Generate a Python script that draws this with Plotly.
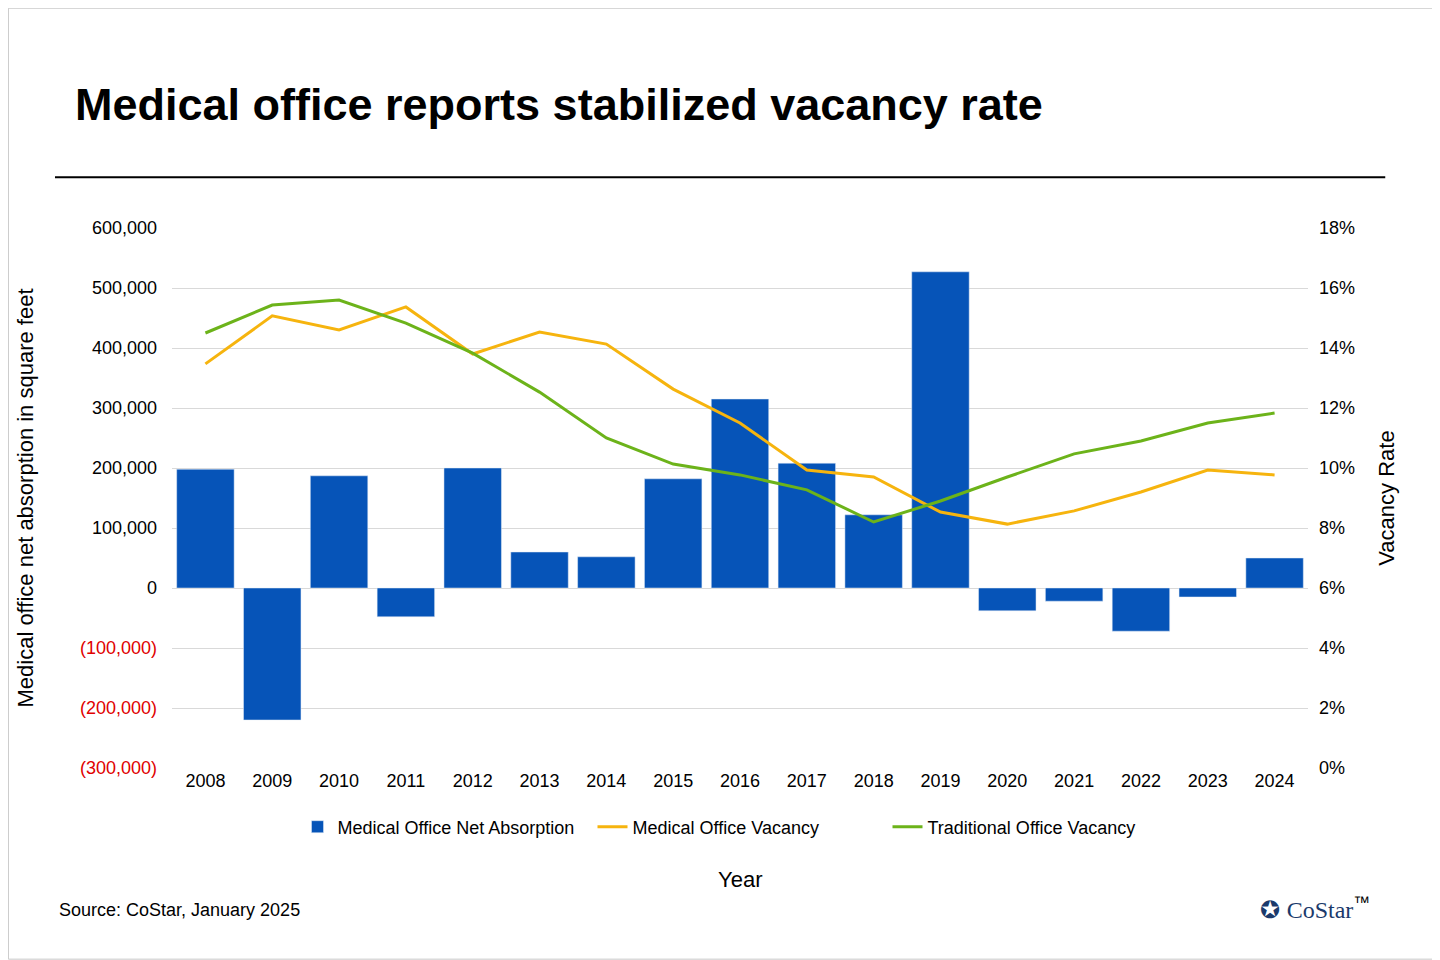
import plotly.graph_objects as go

years = [str(y) for y in range(2008, 2025)]
absorption = [198000, -220000, 187000, -48000, 200000, 60000, 52000, 182000, 315000,
              208000, 122000, 527000, -38000, -22000, -72000, -15000, 50000]
medical_vacancy = [13.47, 15.07, 14.6, 15.37, 13.8, 14.53, 14.13, 12.63, 11.5,
                   9.93, 9.7, 8.53, 8.13, 8.57, 9.2, 9.93, 9.77]
traditional_vacancy = [14.5, 15.43, 15.6, 14.83, 13.83, 12.53, 11.0, 10.13, 9.77,
                       9.27, 8.2, 8.9, 9.7, 10.47, 10.9, 11.5, 11.83]

left_ticks = [-300000, -200000, -100000, 0, 100000, 200000, 300000, 400000, 500000, 600000]
left_text = ["<span style='color:#e00000'>(%s)</span>" % f"{-v:,}" if v < 0 else f"{v:,}"
             for v in left_ticks]

fig = go.Figure()
fig.add_trace(go.Bar(x=years, y=absorption, name="Medical Office Net Absorption",
                     marker_color="#0654b8", width=0.86))
fig.add_trace(go.Scatter(x=years, y=medical_vacancy, name="Medical Office Vacancy", yaxis="y2",
                         mode="lines", line=dict(color="#f6b40e", width=3)))
fig.add_trace(go.Scatter(x=years, y=traditional_vacancy, name="Traditional Office Vacancy", yaxis="y2",
                         mode="lines", line=dict(color="#6cb31a", width=3)))

fig.update_layout(
    width=1440, height=960,
    paper_bgcolor="white", plot_bgcolor="white",
    font=dict(family="Liberation Sans, Arial", size=18, color="black"),
    margin=dict(l=164, r=140, t=220, b=200),
    xaxis=dict(showgrid=False, ticks="", tickfont=dict(size=18)),
    yaxis=dict(range=[-300000, 600000], tickvals=left_ticks, ticktext=left_text,
               gridcolor="#d9d9d9", zeroline=False, ticks="", ticklabelstandoff=14,
               title=dict(text="Medical office net absorption in square feet", font=dict(size=22), standoff=40)),
    yaxis2=dict(range=[0, 18], dtick=2, ticksuffix="%", overlaying="y", side="right",
                showgrid=False, zeroline=False, ticks="", ticklabelstandoff=10,
                title=dict(text="Vacancy Rate", font=dict(size=22), standoff=24)),
    legend=dict(orientation="h", x=0.5, xanchor="center", y=-0.075, yanchor="top",
                font=dict(size=18), traceorder="normal", entrywidth=250, itemwidth=30),
    shapes=[
        dict(type="line", xref="paper", yref="paper", x0=-0.103, x1=1.068, y0=1.094, y1=1.094,
             line=dict(color="black", width=2)),
        dict(type="rect", xref="paper", yref="paper", x0=-0.144, x1=1.115, y0=-0.354, y1=1.407,
             line=dict(color="#c8c8c8", width=1)),
    ],
    annotations=[
        dict(text="<b>Medical office reports stabilized vacancy rate</b>", xref="paper", yref="paper",
             x=-0.087, y=1.228, xanchor="left", yanchor="middle", showarrow=False, font=dict(size=45)),
        dict(text="Year", xref="paper", yref="paper", x=0.5, y=-0.206, xanchor="center",
             yanchor="middle", showarrow=False, font=dict(size=22)),
        dict(text="Source: CoStar, January 2025", xref="paper", yref="paper", x=-0.101, y=-0.263,
             xanchor="left", yanchor="middle", showarrow=False, font=dict(size=18)),
        dict(text="<span style='color:#1b3a6b'>✪</span> <span style='font-family:Liberation Serif;color:#1b3a6b'>CoStar</span><sup style='font-size:8px'>™</sup>",
             xref="paper", yref="paper", x=1.056, y=-0.26, xanchor="right", yanchor="middle",
             showarrow=False, font=dict(size=24)),
    ],
)

fig.write_html("out.html")
